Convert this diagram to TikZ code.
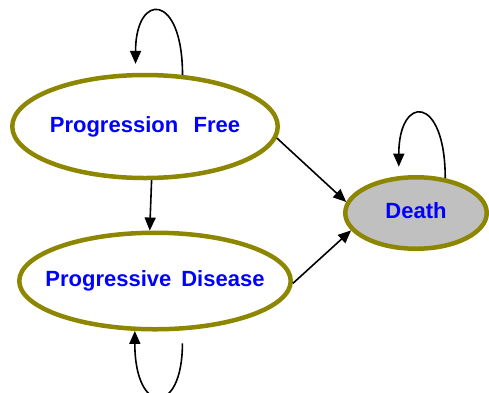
\documentclass[tikz,border=0pt]{standalone}
\usepackage{fontspec}
\setmainfont{Liberation Sans}
\usetikzlibrary{shapes.geometric,arrows.meta}
\definecolor{deathgray}{RGB}{192,192,192}

\begin{document}
\begin{tikzpicture}[
    x=1pt, y=-1pt,
    state/.style={ellipse, draw=olive, line width=4.5pt, inner sep=0pt, text height=16pt, text depth=5pt, text=blue, font=\fontsize{22}{26}\selectfont\bfseries},
    arrow/.style={-{Triangle[length=13pt,width=11pt]}, line width=1.6pt}
]
    \useasboundingbox (0,0) rectangle (489,392);

    \node[state, minimum width=265.5pt, minimum height=103pt] (pf) at (145,126.5) {\makebox[0pt]{Progression\hspace{0.7em}Free}};
    \node[state, minimum width=271.5pt, minimum height=96.5pt] (pd) at (155,281) {\makebox[0pt]{Progressive\hspace{0.45em}Disease}};
    \node[state, fill=deathgray, minimum width=141.5pt, minimum height=71.5pt] (death) at (416,213) {\makebox[0pt]{Death}};

    \draw[arrow] (pf.-83) -- (pd.96);
    \draw[arrow] (pf.-5) -- (death.171);
    \draw[arrow] (pd.-1) -- (death.195);

    \draw[arrow, shorten >=9pt] (pf.54) .. controls +(0,-83) and +(0,-81) .. (pf.100);
    \draw[arrow, shorten <=12.8pt] (pd.-61) .. controls +(0,86) and +(0,85) .. (pd.-112);
    \draw[arrow, shorten >=9.4pt] (death.50) .. controls +(0,-84) and +(0,-82) .. (death.115);
\end{tikzpicture}
\end{document}
